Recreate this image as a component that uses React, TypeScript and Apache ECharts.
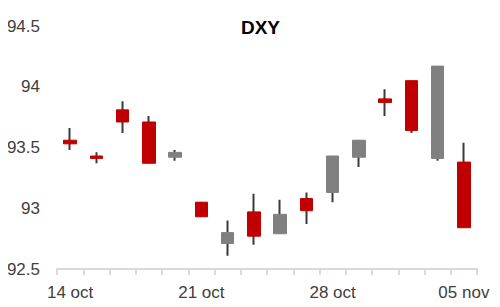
import React, { useEffect, useRef } from "react";
import * as echarts from "echarts";

const dates = [
  "14 oct", "15 oct", "16 oct", "17 oct", "18 oct",
  "21 oct", "22 oct", "23 oct", "24 oct", "25 oct",
  "28 oct", "29 oct", "30 oct", "31 oct", "01 nov", "05 nov",
];
const opens = [93.56, 93.43, 93.81, 93.71, 93.42, 93.05, 92.71, 92.97, 92.79, 93.08, 93.13, 93.42, 93.9, 94.05, 93.41, 93.38];
const closes = [93.53, 93.41, 93.71, 93.37, 93.46, 92.93, 92.8, 92.77, 92.95, 92.98, 93.43, 93.56, 93.87, 93.64, 94.17, 92.84];
const lows = [93.48, 93.37, 93.62, 93.37, 93.39, 92.93, 92.61, 92.7, 92.79, 92.87, 93.05, 93.34, 93.76, 93.62, 93.39, 92.84];
const highs = [93.66, 93.46, 93.88, 93.76, 93.48, 93.05, 92.9, 93.12, 93.07, 93.13, 93.43, 93.56, 93.98, 94.05, 94.17, 93.54];

const UP = "#808080";
const DOWN = "#C00000";
const WICK = "#3a3a3a";
const FONT = "Liberation Sans";

export default function App() {
  const ref = useRef<HTMLDivElement>(null);
  useEffect(() => {
    if (!ref.current) return;
    const chart = echarts.init(ref.current, null, { renderer: "svg" });
    const wickData = dates.map((_, i) => {
      const mid = (opens[i] + closes[i]) / 2;
      return [mid, mid, lows[i], highs[i]];
    });
    const bodyData = dates.map((_, i) => [
      opens[i], closes[i], Math.min(opens[i], closes[i]), Math.max(opens[i], closes[i]),
    ]);
    chart.setOption({
      animation: false,
      title: {
        text: "DXY",
        left: 255.5,
        textAlign: "center",
        top: 13,
        textStyle: { fontFamily: FONT, fontSize: 19, fontWeight: "bold", color: "#000" },
      },
      grid: { left: 57, right: 23, top: 26, bottom: 38 },
      xAxis: {
        type: "category",
        data: dates,
        boundaryGap: true,
        axisLine: { lineStyle: { color: "#d9d9d9", width: 2 } },
        axisTick: { show: true, interval: 0, length: 6, lineStyle: { color: "#d9d9d9", width: 2 } },
        axisLabel: {
          interval: 4,
          margin: 15,
          fontFamily: FONT,
          fontSize: 17,
          color: "#404040",
        },
        splitLine: { show: false },
      },
      yAxis: {
        type: "value",
        min: 92.5,
        max: 94.5,
        interval: 0.5,
        axisLine: { show: false },
        axisTick: { show: false },
        splitLine: { show: false },
        axisLabel: { margin: 17, fontFamily: FONT, fontSize: 17, color: "#404040" },
      },
      series: [
        {
          type: "candlestick",
          data: wickData,
          barWidth: 2,
          z: 2,
          itemStyle: {
            color: WICK,
            color0: WICK,
            borderColor: WICK,
            borderColor0: WICK,
            borderWidth: 2,
          },
        },
        {
          type: "candlestick",
          data: bodyData,
          barWidth: 13,
          z: 3,
          itemStyle: {
            color: UP,
            color0: DOWN,
            borderColor: UP,
            borderColor0: DOWN,
            borderWidth: 1,
          },
        },
      ],
    });
    return () => chart.dispose();
  }, []);
  return <div ref={ref} style={{ width: 500, height: 307, margin: -8 }} />;
}
